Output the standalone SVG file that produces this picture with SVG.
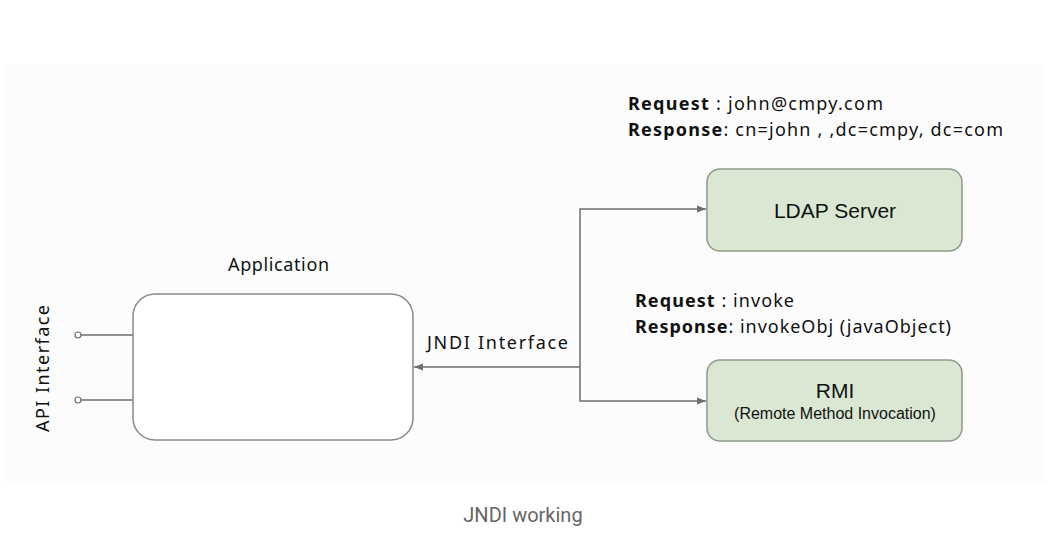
<svg xmlns="http://www.w3.org/2000/svg" width="1052" height="556" viewBox="0 0 1052 556">
<style>
.hand{font-family:"Noto Sans","DejaVu Sans",sans-serif;fill:#111;font-size:18px}
.b{font-weight:bold}
.box{fill:#dae8d3;stroke:#8f9a8b;stroke-width:1.5}
.app{fill:#ffffff;stroke:#8a8a8a;stroke-width:1.5}
.ln{fill:none;stroke:#6e6e6e;stroke-width:1.5}
.arial{font-family:"Liberation Sans",Arial,sans-serif;fill:#111;text-anchor:middle}
</style>
<defs>
<marker id="arr" viewBox="0 0 10 10" refX="10" refY="5" markerWidth="9" markerHeight="9" markerUnits="userSpaceOnUse" orient="auto">
<path d="M0,1 L10,5 L0,9 Z" fill="#6e6e6e"/>
</marker>
</defs>
<rect x="0" y="0" width="1052" height="556" fill="#ffffff"/>
<rect x="5" y="64" width="1040" height="420" fill="#fcfcfc"/>
<g id="connectors">
<polyline class="ln" points="580,367 580,209 706,209" marker-end="url(#arr)"/>
<polyline class="ln" points="580,367 580,401 706,401" marker-end="url(#arr)"/>
<line class="ln" x1="580" y1="367" x2="414" y2="367" marker-end="url(#arr)"/>
<line class="ln" x1="81" y1="335" x2="133" y2="335"/>
<line class="ln" x1="81" y1="400" x2="133" y2="400"/>
<circle cx="78" cy="335" r="3" fill="#fff" stroke="#6e6e6e" stroke-width="1.2"/>
<circle cx="78" cy="400" r="3" fill="#fff" stroke="#6e6e6e" stroke-width="1.2"/>
</g>
<g id="application">
<rect class="app" x="133" y="294" width="280" height="146" rx="22"/>
<text class="hand" x="228" y="271" textLength="101" lengthAdjust="spacing">Application</text>
</g>
<g id="api-interface">
<text class="hand" transform="translate(49,432) rotate(-90)" textLength="127" lengthAdjust="spacing">API Interface</text>
</g>
<g id="jndi-label">
<text class="hand" x="427" y="349" textLength="141" lengthAdjust="spacing">JNDI Interface</text>
</g>
<g id="ldap">
<rect class="box" x="707" y="169" width="255" height="82" rx="13"/>
<text class="arial" x="835" y="218" font-size="21">LDAP Server</text>
</g>
<g id="rmi">
<rect class="box" x="707" y="360" width="255" height="81" rx="13"/>
<text class="arial" x="835" y="398" font-size="21">RMI</text>
<text class="arial" x="835" y="419" font-size="16">(Remote Method Invocation)</text>
</g>
<g id="ldap-note">
<text class="hand" x="628" y="110" textLength="255" lengthAdjust="spacing"><tspan class="b">Request</tspan> : john@cmpy.com</text>
<text class="hand" x="628" y="136" textLength="375" lengthAdjust="spacing"><tspan class="b">Response</tspan>: cn=john , ,dc=cmpy, dc=com</text>
</g>
<g id="rmi-note">
<text class="hand" x="635" y="307" textLength="159" lengthAdjust="spacing"><tspan class="b">Request</tspan> : invoke</text>
<text class="hand" x="635" y="333" textLength="316" lengthAdjust="spacing"><tspan class="b">Response</tspan>: invokeObj (javaObject)</text>
</g>
<text x="523" y="522" text-anchor="middle" font-family="Roboto,'Liberation Sans',sans-serif" font-size="20" fill="#666">JNDI working</text>
</svg>
